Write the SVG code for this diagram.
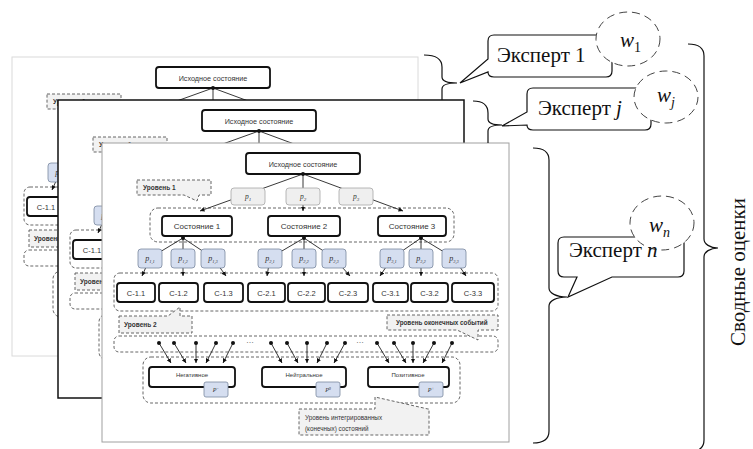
<svg xmlns="http://www.w3.org/2000/svg" xmlns:xlink="http://www.w3.org/1999/xlink" width="753" height="449" viewBox="0 0 753 449">
<style>
.sheet{fill:#fff}
.box{fill:#fff;stroke:#111;stroke-width:1.8}
.grp{fill:none;stroke:#555;stroke-width:0.9;stroke-dasharray:3 2}
.pg{fill:#efefef;stroke:#a6a6a6;stroke-width:0.8}
.pb{fill:#d5def0;stroke:#7a889e;stroke-width:0.8}
.ln{stroke:#222;stroke-width:0.9;fill:none}
.arr{marker-end:url(#ah)}
.dot{fill:#111}
.t{font-family:"Liberation Sans",Arial,sans-serif;fill:#333;text-anchor:middle}
.tl{font-family:"Liberation Sans",Arial,sans-serif;fill:#333}
.b{font-weight:bold}
.pl{font-family:"Liberation Serif",serif;font-style:italic;text-anchor:middle;fill:#333}
.call{fill:#f2f2f2;stroke:#555;stroke-width:0.9;stroke-dasharray:3 2}
.brace{fill:none;stroke:#111;stroke-width:1.2}
.bub{fill:#fff;stroke:#111;stroke-width:1.2}
.wc{fill:#fff;stroke:#444;stroke-width:1;stroke-dasharray:8 5}
.st{font-family:"Liberation Serif","DejaVu Serif",serif;font-size:21px;fill:#111}
.it{font-style:italic}
</style>
<defs>
<marker id="ah" viewBox="0 0 10 10" refX="10" refY="5" markerWidth="4.5" markerHeight="4.5" orient="auto" markerUnits="userSpaceOnUse">
<path d="M0,0 L10,5 L0,10 Z" fill="#111"/>
</marker>
</defs>

<!-- back sheet 1 -->
<g id="sheet1">
<rect class="sheet" x="12" y="57" width="406" height="299" stroke="#dadada" stroke-width="1"/>
<use xlink:href="#front" href="#front" transform="translate(-90,-86)"/>
</g>
<!-- back sheet 2 -->
<g id="sheet2">
<rect class="sheet" x="58" y="100" width="406" height="298" stroke="#111" stroke-width="1.5"/>
<use xlink:href="#front" href="#front" transform="translate(-44,-43)"/>
</g>
<!-- front sheet 3 -->
<g id="sheet3">
<rect class="sheet" x="102" y="143" width="407" height="299" stroke="#a0a0a0" stroke-width="1"/>
<g id="front">
 <!-- dashed groups -->
 <g id="groups">
  <rect class="grp" x="150" y="208" width="304" height="34" rx="8"/>
  <rect class="grp" x="114" y="273" width="384" height="38" rx="6"/>
  <rect class="grp" x="114" y="336" width="384" height="16" rx="5"/>
  <rect class="grp" x="143" y="357" width="317" height="46" rx="8"/>
 </g>
 <!-- connectors -->
 <g id="connectors">
  <line class="ln arr" x1="303" y1="174" x2="200" y2="211"/>
  <line class="ln arr" x1="303" y1="174" x2="303" y2="211"/>
  <line class="ln arr" x1="303" y1="174" x2="403" y2="211"/>
  <polyline class="ln arr" points="183,238 150,258 142,276"/>
  <polyline class="ln arr" points="183,238 183,258 183,276"/>
  <polyline class="ln arr" points="183,238 213,258 226,276"/>
  <polyline class="ln arr" points="304,238 270,258 267,276"/>
  <polyline class="ln arr" points="304,238 304,258 304,276"/>
  <polyline class="ln arr" points="304,238 334,258 350,276"/>
  <polyline class="ln arr" points="421,238 392,258 380,276"/>
  <polyline class="ln arr" points="421,238 421,258 421,276"/>
  <polyline class="ln arr" points="421,238 454,258 466,276"/>
  <line class="ln arr" x1="159" y1="343" x2="171" y2="363"/>
  <line class="ln arr" x1="174" y1="343" x2="186" y2="363"/>
  <line class="ln arr" x1="196" y1="343" x2="196" y2="363"/>
  <line class="ln arr" x1="216" y1="343" x2="206" y2="363"/>
  <line class="ln arr" x1="233" y1="343" x2="223" y2="363"/>
  <line class="ln arr" x1="271" y1="343" x2="282" y2="363"/>
  <line class="ln arr" x1="287" y1="343" x2="298" y2="363"/>
  <line class="ln arr" x1="307" y1="343" x2="307" y2="363"/>
  <line class="ln arr" x1="327" y1="343" x2="317" y2="363"/>
  <line class="ln arr" x1="345" y1="343" x2="334" y2="363"/>
  <line class="ln arr" x1="377" y1="343" x2="389" y2="363"/>
  <line class="ln arr" x1="394" y1="343" x2="406" y2="363"/>
  <line class="ln arr" x1="413" y1="343" x2="413" y2="363"/>
  <line class="ln arr" x1="434" y1="343" x2="423" y2="363"/>
  <line class="ln arr" x1="452" y1="343" x2="442" y2="363"/>
 </g>
 <!-- nodes -->
 <g id="init"><rect class="box" x="246" y="153" width="114" height="21" rx="3"/><text class="t" x="303" y="166.5" font-size="7.2">Исходное состояние</text><circle class="dot" cx="303" cy="174" r="2"/></g>
 <g id="p1"><rect class="pg" x="231" y="188" width="34" height="17" rx="3"/><text class="pl" x="248" y="199" font-size="7.5" fill="#666">p<tspan dy="1.5" font-size="5">1</tspan></text></g>
 <g id="p2"><rect class="pg" x="286" y="188" width="34" height="17" rx="3"/><text class="pl" x="303" y="199" font-size="7.5">p<tspan dy="1.5" font-size="5">2</tspan></text></g>
 <g id="p3"><rect class="pg" x="339" y="188" width="34" height="17" rx="3"/><text class="pl" x="356" y="199" font-size="7.5">p<tspan dy="1.5" font-size="5">3</tspan></text></g>
 <g id="s1"><rect class="box" x="162" y="216" width="70" height="20" rx="3"/><text class="t" x="197" y="229" font-size="8" fill="#111">Состояние 1</text><circle class="dot" cx="183" cy="238" r="2"/></g>
 <g id="s2"><rect class="box" x="268" y="216" width="72" height="20" rx="3"/><text class="t" x="304" y="229" font-size="8" fill="#111">Состояние 2</text><circle class="dot" cx="304" cy="238" r="2"/></g>
 <g id="s3"><rect class="box" x="378" y="216" width="68" height="20" rx="3"/><text class="t" x="412" y="229" font-size="8" fill="#111">Состояние 3</text><circle class="dot" cx="421" cy="238" r="2"/></g>
 <g id="p11"><rect class="pb" x="138" y="249" width="24" height="19" rx="3"/><text class="pl" x="150" y="261" font-size="8">p<tspan dy="1.5" font-size="4.5">1,1</tspan></text></g>
 <g id="p12"><rect class="pb" x="171" y="249" width="24" height="19" rx="3"/><text class="pl" x="183" y="261" font-size="8">p<tspan dy="1.5" font-size="4.5">1,2</tspan></text></g>
 <g id="p13"><rect class="pb" x="201" y="249" width="24" height="19" rx="3"/><text class="pl" x="213" y="261" font-size="8">p<tspan dy="1.5" font-size="4.5">1,3</tspan></text></g>
 <g id="p21"><rect class="pb" x="258" y="249" width="24" height="19" rx="3"/><text class="pl" x="270" y="261" font-size="8">p<tspan dy="1.5" font-size="4.5">2,1</tspan></text></g>
 <g id="p22"><rect class="pb" x="292" y="249" width="24" height="19" rx="3"/><text class="pl" x="304" y="261" font-size="8">p<tspan dy="1.5" font-size="4.5">2,2</tspan></text></g>
 <g id="p23"><rect class="pb" x="322" y="249" width="24" height="19" rx="3"/><text class="pl" x="334" y="261" font-size="8">p<tspan dy="1.5" font-size="4.5">2,3</tspan></text></g>
 <g id="p31"><rect class="pb" x="380" y="249" width="24" height="19" rx="3"/><text class="pl" x="392" y="261" font-size="8">p<tspan dy="1.5" font-size="4.5">3,1</tspan></text></g>
 <g id="p32"><rect class="pb" x="409" y="249" width="24" height="19" rx="3"/><text class="pl" x="421" y="261" font-size="8">p<tspan dy="1.5" font-size="4.5">3,2</tspan></text></g>
 <g id="p33"><rect class="pb" x="442" y="249" width="24" height="19" rx="3"/><text class="pl" x="454" y="261" font-size="8">p<tspan dy="1.5" font-size="4.5">3,3</tspan></text></g>
 <g id="c11"><rect class="box" x="117" y="283" width="38" height="19" rx="3"/><text class="t" x="136" y="295.5" font-size="7.5">С-1.1</text></g>
 <g id="c12"><rect class="box" x="159" y="283" width="39" height="19" rx="3"/><text class="t" x="178.5" y="295.5" font-size="7.5">С-1.2</text></g>
 <g id="c13"><rect class="box" x="204" y="283" width="39" height="19" rx="3"/><text class="t" x="223.5" y="295.5" font-size="7.5">С-1.3</text></g>
 <g id="c21"><rect class="box" x="248" y="283" width="37" height="19" rx="3"/><text class="t" x="266.5" y="295.5" font-size="7.5">С-2.1</text></g>
 <g id="c22"><rect class="box" x="288" y="283" width="37" height="19" rx="3"/><text class="t" x="306.5" y="295.5" font-size="7.5">С-2.2</text></g>
 <g id="c23"><rect class="box" x="328" y="283" width="40" height="19" rx="3"/><text class="t" x="348" y="295.5" font-size="7.5">С-2.3</text></g>
 <g id="c31"><rect class="box" x="373" y="283" width="35" height="19" rx="3"/><text class="t" x="390.5" y="295.5" font-size="7.5">С-3.1</text></g>
 <g id="c32"><rect class="box" x="411" y="283" width="37" height="19" rx="3"/><text class="t" x="429.5" y="295.5" font-size="7.5">С-3.2</text></g>
 <g id="c33"><rect class="box" x="452" y="283" width="42" height="19" rx="3"/><text class="t" x="473" y="295.5" font-size="7.5">С-3.3</text></g>
 <g id="lvl1"><path class="call" d="M137,180 H211 V195 H199 L197,201 L184,195 H137 Z"/><text class="tl b" x="143" y="190" font-size="6.5">Уровень 1</text></g>
 <g id="lvl2"><path class="call" d="M119,316 H168 L180,307 V316 H192 V333 H119 Z"/><text class="tl b" x="124" y="327" font-size="6.5">Уровень 2</text></g>
 <g id="lvlend"><path class="call" d="M387,315 H498 V330 H478 V340 L457,330 H387 Z"/><text class="tl b" x="396" y="325" font-size="6.3">Уровень оконечных событий</text></g>
 <g id="events">
  <circle class="dot" cx="159" cy="343" r="2"/><circle class="dot" cx="174" cy="343" r="2"/><circle class="dot" cx="196" cy="343" r="2"/><circle class="dot" cx="216" cy="343" r="2"/><circle class="dot" cx="233" cy="343" r="2"/>
  <text class="t" x="250" y="343" font-size="8">…</text>
  <circle class="dot" cx="271" cy="343" r="2"/><circle class="dot" cx="287" cy="343" r="2"/><circle class="dot" cx="307" cy="343" r="2"/><circle class="dot" cx="327" cy="343" r="2"/><circle class="dot" cx="345" cy="343" r="2"/>
  <text class="t" x="360" y="343" font-size="8">…</text>
  <circle class="dot" cx="377" cy="343" r="2"/><circle class="dot" cx="394" cy="343" r="2"/><circle class="dot" cx="413" cy="343" r="2"/><circle class="dot" cx="434" cy="343" r="2"/><circle class="dot" cx="452" cy="343" r="2"/>
 </g>
 <g id="neg"><rect class="box" x="149" y="367" width="86" height="20" rx="3"/><text class="t" x="192" y="377" font-size="6" fill="#555">Негативное</text><rect class="pb" x="204" y="382" width="24" height="15" rx="2"/><text class="pl" x="216" y="392" font-size="6">P<tspan dy="-2.5" font-size="4">−</tspan></text></g>
 <g id="neu"><rect class="box" x="262" y="367" width="84" height="20" rx="3"/><text class="t" x="304" y="377" font-size="6" fill="#555">Нейтральное</text><rect class="pb" x="316" y="382" width="24" height="15" rx="2"/><text class="pl" x="328" y="392" font-size="6">P<tspan dy="-2.5" font-size="4">0</tspan></text></g>
 <g id="pos"><rect class="box" x="368" y="367" width="81" height="20" rx="3"/><text class="t" x="408" y="377" font-size="6" fill="#555">Позитивное</text><rect class="pb" x="419" y="382" width="24" height="15" rx="2"/><text class="pl" x="431" y="392" font-size="6">P<tspan dy="-2.5" font-size="4">+</tspan></text></g>
 <g id="lvlint"><path class="call" d="M299,409 H375 V397 L428,409 H429 V435 H299 Z"/><text class="tl" x="305" y="420" font-size="6.3">Уровень интегрированных</text><text class="tl" x="305" y="431" font-size="6.3">(конечных) состояний</text></g>
</g>
</g>

<!-- right side annotations -->
<g id="braces">
 <path class="brace" d="M424,55 C436,55 442,59 442,67 L442,77 C442,81 448,83 457,83 C448,83 442,85 442,89 L442,100"/>
 <path class="brace" d="M473,101 C483,101 488,105 488,113 L488,119 C488,123 494,125 502,125 C494,125 488,127 488,131 L488,143"/>
 <path class="brace" d="M533,148 C543,148 549,152 549,160 L549,288 C549,293 556,297 567,297 C556,297 549,301 549,306 L549,431 C549,439 543,443 533,443"/>
 <path class="brace" d="M688,44 C698,44 704,48 704,56 L704,239 C704,244 710,248 718,248 C710,248 704,252 704,257 L704,440 C704,448 698,452 688,452"/>
</g>
<g id="expert1">
 <path class="bub" d="M494,35 H606 Q612,35 612,41 V71 Q612,77 606,77 H494 Q488,77 488,72 L460,83 L488,59 V41 Q488,35 494,35 Z"/>
 <ellipse class="wc" cx="628" cy="39" rx="32" ry="27"/>
 <text class="st" x="497" y="62">Эксперт 1</text>
 <text class="st it" x="620" y="47">w<tspan dy="5" font-size="14" font-style="normal">1</tspan></text>
</g>
<g id="expertj">
 <path class="bub" d="M533,88 H645 Q651,88 651,94 V124 Q651,130 645,130 H533 Q527,130 527,125 L502,126 L527,112 V94 Q527,88 533,88 Z"/>
 <ellipse class="wc" cx="666" cy="97" rx="32" ry="26"/>
 <text class="st" x="538" y="115">Эксперт <tspan class="it">j</tspan></text>
 <text class="st it" x="657" y="102">w<tspan dy="5" font-size="14">j</tspan></text>
</g>
<g id="expertn">
 <path class="bub" d="M564,237 H678 Q684,237 684,243 V271 Q684,277 678,277 H612 L568,297 L577,277 H564 Q558,277 558,271 V243 Q558,237 564,237 Z"/>
 <ellipse class="wc" cx="662" cy="223" rx="32" ry="27"/>
 <text class="st" x="569" y="257">Эксперт <tspan class="it">n</tspan></text>
 <text class="st it" x="649" y="232">w<tspan dy="5" font-size="14">n</tspan></text>
</g>
<g id="summary">
 <text class="st" font-size="22" text-anchor="middle" transform="translate(745,272) rotate(-90)">Сводные оценки</text>
</g>
</svg>
